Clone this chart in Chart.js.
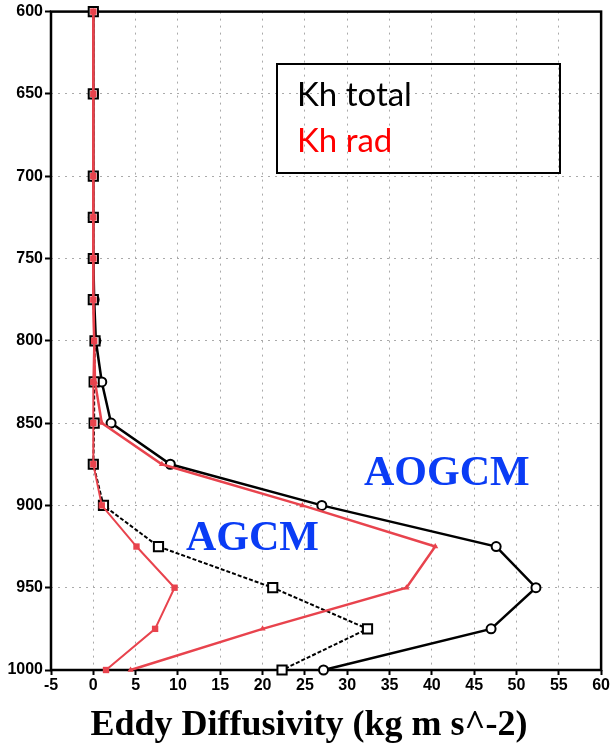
<!DOCTYPE html>
<html>
<head>
<meta charset="utf-8">
<script src="https://cdn.jsdelivr.net/npm/chart.js@4.4.1/dist/chart.umd.min.js"></script>
<style>
  body { margin: 0; background: #fff; }
  #wrap { position: relative; width: 611px; height: 747px; }
  #chart { position: absolute; left: 0; top: 0; }
  .legend {
    position: absolute; left: 276px; top: 63px; width: 285px; height: 111px;
    border: 2px solid #000; box-sizing: border-box;
  }
  .txt { position: absolute; line-height: 1; white-space: nowrap; }
  .leg { font-family: Lato, sans-serif; font-size: 33px; left: 297px; }
  .model { font-family: "Liberation Serif", "Times New Roman", serif; font-weight: bold; font-size: 42px; color: #0a3cf5; }
  .title { font-family: "Liberation Serif", "Times New Roman", serif; font-weight: bold; font-size: 36px; color: #000; left: 0; width: 618px; text-align: center; }
</style>
</head>
<body>
<div id="wrap">
  <canvas id="chart" width="611" height="747"></canvas>
  <div class="legend"></div>
  <div class="txt leg" style="top:77px;color:#000">Kh total</div>
  <div class="txt leg" style="top:123px;color:#ff0000">Kh rad</div>
  <div class="txt model" style="left:364px;top:450px">AOGCM</div>
  <div class="txt model" style="left:186px;top:515px">AGCM</div>
  <div class="txt title" style="top:705px">Eddy Diffusivity (kg m s^-2)</div>
</div>
<script>
// pressure levels (hPa)
const levels = [600, 650, 700, 725, 750, 775, 800, 825, 850, 875, 900, 925, 950, 975, 1000];

// AOGCM
const aogcmTotal = [0, 0, 0, 0, 0, 0.1, 0.3, 1.0, 2.1, 9.1, 27.0, 47.6, 52.3, 47.0, 27.2];
const aogcmRad   = [0, 0, 0, 0, 0, 0, 0.1, 0.2, 1.0, 8.1, 24.7, 40.4, 37.0, 20.0, 4.4];

// AGCM
const agcmTotal = [0, 0, 0, 0, 0, 0, 0.2, 0.1, 0.1, 0, 1.2, 7.7, 21.2, 32.4, 22.3];
const agcmRad   = [0, 0, 0, 0, 0, 0, 0.1, 0, 0, 0, 1.0, 5.1, 9.6, 7.3, 1.5];

const xTicks = [-5, 0, 5, 10, 15, 20, 25, 30, 35, 40, 45, 50, 55, 60];
const yTicks = [600, 650, 700, 750, 800, 850, 900, 950, 1000];

const RED = '#e8434d';

function pts(vals) {
  return vals.map((v, i) => ({ x: v, y: levels[i] }));
}

// black frame round the plot area, under the data
const frame = {
  id: 'frame',
  beforeDatasetsDraw(chart) {
    const { ctx, chartArea: a } = chart;
    ctx.save();
    ctx.strokeStyle = '#000';
    ctx.lineWidth = 2.5;
    ctx.strokeRect(a.left, a.top, a.right - a.left, a.bottom - a.top);
    ctx.restore();
  }
};

const tickFont = { family: '"Liberation Sans", Arial, sans-serif', size: 16, weight: 'bold' };

new Chart(document.getElementById('chart'), {
  type: 'scatter',
  data: {
    datasets: [
      {
        label: 'AGCM Kh rad',
        data: pts(agcmRad),
        showLine: true,
        borderColor: RED,
        backgroundColor: RED,
        borderWidth: 2,
        pointStyle: 'rect',
        pointRadius: 4.5,
        pointBorderWidth: 0,
        clip: false,
      },
      {
        label: 'AOGCM Kh rad',
        data: pts(aogcmRad),
        showLine: true,
        borderColor: RED,
        backgroundColor: RED,
        borderWidth: 2.5,
        pointStyle: 'triangle',
        pointRadius: 3.5,
        pointBorderWidth: 0,
        clip: false,
      },
      {
        label: 'AGCM Kh total',
        data: pts(agcmTotal),
        showLine: true,
        borderColor: '#000',
        backgroundColor: '#fff',
        borderWidth: 2,
        borderDash: [4, 2],
        pointStyle: 'rect',
        pointRadius: 6.5,
        pointBorderWidth: 2,
        clip: false,
      },
      {
        label: 'AOGCM Kh total',
        data: pts(aogcmTotal),
        showLine: true,
        borderColor: '#000',
        backgroundColor: '#fff',
        borderWidth: 2.5,
        pointStyle: 'circle',
        pointRadius: 4.5,
        pointBorderWidth: 2,
        clip: false,
      },
    ]
  },
  options: {
    responsive: false,
    animation: false,
    layout: { padding: { top: 8, right: 8, left: 0, bottom: 0 } },
    plugins: {
      legend: { display: false },
      tooltip: { enabled: false },
    },
    scales: {
      x: {
        type: 'linear',
        min: -5,
        max: 60,
        afterFit(s) { s.height = 77; },
        afterBuildTicks(s) { s.ticks = xTicks.map(v => ({ value: v })); },
        ticks: {
          color: '#000', font: tickFont, padding: 1, maxRotation: 0, autoSkip: false,
          callback: v => String(v),
        },
        grid: {
          color: '#aaa', lineWidth: 1,
          tickLength: 5, tickColor: '#000', tickWidth: 2, tickBorderDash: [],
        },
        border: { display: false, dash: [2, 5] },
      },
      y: {
        type: 'linear',
        reverse: true,
        min: 600,
        max: 1000,
        afterFit(s) { s.width = 51; },
        afterBuildTicks(s) { s.ticks = yTicks.map(v => ({ value: v })); },
        ticks: {
          color: '#000', font: tickFont, padding: 2, autoSkip: false,
          callback: v => String(v),
        },
        grid: {
          color: '#aaa', lineWidth: 1,
          tickLength: 6, tickColor: '#000', tickWidth: 2, tickBorderDash: [],
        },
        border: { display: false, dash: [2, 5] },
      }
    }
  },
  plugins: [frame]
});
</script>
</body>
</html>
